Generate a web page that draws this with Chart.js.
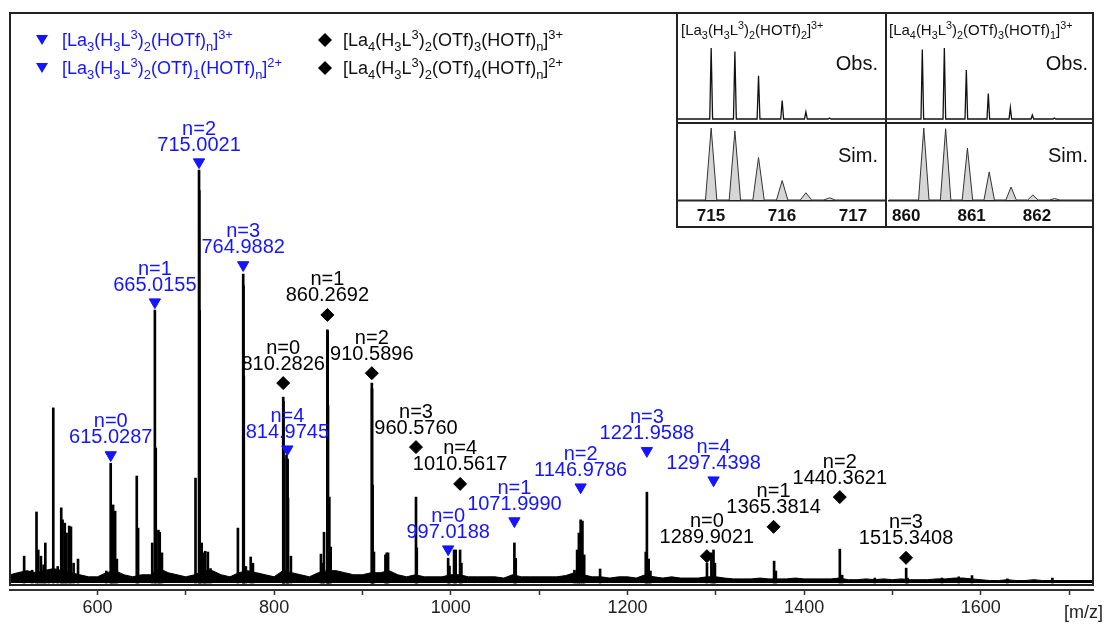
<!DOCTYPE html>
<html>
<head>
<meta charset="utf-8">
<script src="https://cdn.jsdelivr.net/npm/chart.js@4.4.1/dist/chart.umd.min.js"></script>
<style>
body { margin: 0; background: #fff; font-family: "Liberation Sans", Arial, sans-serif; }
#wrap { position: relative; width: 1105px; height: 624px; overflow: hidden; }
#main { position: absolute; left: 0; top: 0; }
.leg { position: absolute; font-size: 18px; line-height: 18px; white-space: nowrap; color: #111; }
.leg sub, .leg sup, .ttl sub, .ttl sup { font-size: 72%; line-height: 0; }
.blue { color: #1414ff; }
.tri { position: absolute; width: 12px; height: 10px; background: #1414ff; clip-path: polygon(0 0, 100% 0, 50% 100%); }
.dia { position: absolute; width: 14px; height: 14px; background: #000; clip-path: polygon(50% 0, 100% 50%, 50% 100%, 0 50%); }
#inset { position: absolute; left: 676px; top: 12px; width: 418px; height: 216px; box-sizing: border-box; border: 2px solid #222; background: #fff; }
#inset canvas { position: absolute; }
.vdiv { position: absolute; left: 207px; top: 0; width: 2px; height: 100%; background: #222; }
.hdiv { position: absolute; left: 0; top: 108px; width: 100%; height: 2px; background: #222; }
.tag { position: absolute; font-size: 20px; line-height: 20px; color: #111; }
.ttl { position: absolute; top: 8px; font-size: 15px; line-height: 15px; white-space: nowrap; color: #111; }
#mz { position: absolute; left: 1064px; top: 602px; font-size: 18px; color: #222; }
</style>
</head>
<body>
<div id="wrap">
  <canvas id="main" width="1105" height="624"></canvas>

  <span class="tri" style="left:36px;top:35px"></span>
  <div class="leg blue" style="left:62px;top:31px">[La<sub>3</sub>(H<sub>3</sub>L<sup>3</sup>)<sub>2</sub>(HOTf)<sub>n</sub>]<sup>3+</sup></div>
  <span class="tri" style="left:36px;top:63px"></span>
  <div class="leg blue" style="left:62px;top:59px">[La<sub>3</sub>(H<sub>3</sub>L<sup>3</sup>)<sub>2</sub>(OTf)<sub>1</sub>(HOTf)<sub>n</sub>]<sup>2+</sup></div>
  <span class="dia" style="left:318px;top:33px"></span>
  <div class="leg" style="left:343px;top:31px">[La<sub>4</sub>(H<sub>3</sub>L<sup>3</sup>)<sub>2</sub>(OTf)<sub>3</sub>(HOTf)<sub>n</sub>]<sup>3+</sup></div>
  <span class="dia" style="left:318px;top:61px"></span>
  <div class="leg" style="left:343px;top:59px">[La<sub>4</sub>(H<sub>3</sub>L<sup>3</sup>)<sub>2</sub>(OTf)<sub>4</sub>(HOTf)<sub>n</sub>]<sup>2+</sup></div>

  <div id="inset">
    <canvas id="obsL" width="207" height="108" style="left:0;top:0"></canvas>
    <canvas id="simL" width="207" height="102" style="left:0;top:110px"></canvas>
    <canvas id="obsR" width="205" height="108" style="left:209px;top:0"></canvas>
    <canvas id="simR" width="205" height="102" style="left:209px;top:110px"></canvas>
    <div class="vdiv"></div>
    <div class="hdiv"></div>
    <div class="ttl blue" style="left:3px">[La<sub>3</sub>(H<sub>3</sub>L<sup>3</sup>)<sub>2</sub>(HOTf)<sub>2</sub>]<sup>3+</sup></div>
    <div class="ttl" style="left:211px">[La<sub>4</sub>(H<sub>3</sub>L<sup>3</sup>)<sub>2</sub>(OTf)<sub>3</sub>(HOTf)<sub>1</sub>]<sup>3+</sup></div>
    <div class="tag" style="right:214px;top:39px">Obs.</div>
    <div class="tag" style="right:214px;top:131px">Sim.</div>
    <div class="tag" style="right:4px;top:39px">Obs.</div>
    <div class="tag" style="right:4px;top:131px">Sim.</div>
  </div>

  <div id="mz">[m/z]</div>
</div>

<script>
// main spectrum, relative intensity (715 peak = 100)
const xMin = 501;
const xMax = 1727;

const peakMz = [517, 526, 531, 533, 536, 539, 541, 545, 550, 555, 559, 560.5, 563, 565, 568, 570, 573, 578,
  610, 615, 616, 617.7, 620, 622, 644.5, 646, 662, 665, 666, 669, 670.5, 673,
  711, 715, 715.33, 715.67, 718, 721, 722, 725, 728, 759, 765, 765.33, 765.67, 768, 773.5, 776,
  810.3, 810.6, 811, 814, 815.3, 815.7, 819, 853, 855, 856.5, 860.3, 860.6, 861, 862.5, 864,
  910.6, 910.9, 911.5, 913, 926, 927.5, 929, 960.6, 961.5, 997, 998.5, 1003.7, 1005.5, 1010.5, 1012,
  1072, 1073.5, 1140, 1143, 1145, 1147, 1149, 1151, 1169, 1220.7, 1222, 1224, 1226,
  1290, 1295, 1297.4, 1299, 1366, 1368, 1440.4, 1443, 1480, 1515.5, 1517, 1556, 1575, 1590, 1630, 1681];
const peakInt = [6.5, 3.1, 17.2, 8, 6.5, 4.4, 9.7, 2.9, 42.4, 4, 18.2, 15.3, 14.5, 12.1, 13.8, 13.6, 4.8, 5.8,
  2.9, 29, 14.5, 18.9, 17.4, 5.8, 25.9, 13.3, 9.7, 66.1, 32.7, 12.8, 12.3, 7.3,
  25.4, 100, 95, 66, 9.7, 7.3, 7.7, 7.5, 3.5, 13.3, 74.8, 72, 50, 4, 6.3, 4.8,
  45, 44, 30, 31, 30, 20.6, 6.5, 7, 4.8, 12.3, 61.3, 61, 43, 20.8, 8.7,
  48.4, 47, 23.7, 7.5, 6.8, 7.3, 7.3, 20.8, 8.5, 6, 4.1, 8, 8, 8, 4.8,
  9.7, 6, 3.1, 8, 12.1, 15.3, 15, 6.8, 3.4, 7.5, 22, 5.8, 2.9,
  4.8, 7.3, 8, 4.8, 5.3, 2.9, 8.2, 1.9, 1.2, 3.6, 1.2, 1.2, 1.5, 1.8, 1, 1.2];

// baseline grass
const floorMz = [501, 510, 520, 530, 540, 550, 560, 570, 580, 590, 600,
  610, 620, 630, 640, 650, 660, 670, 680, 690, 700,
  710, 720, 730, 740, 750, 760, 770, 780, 790, 800,
  810, 820, 830, 840, 850, 860, 870, 880, 890, 900,
  910, 920, 930, 940, 950, 960, 970, 980, 990, 1000,
  1010, 1020, 1030, 1040, 1050, 1060, 1070, 1080, 1090, 1100,
  1110, 1120, 1130, 1140, 1150, 1160, 1170, 1180, 1190, 1200,
  1210, 1220, 1230, 1240, 1250, 1260, 1270, 1280, 1290, 1300,
  1310, 1320, 1330, 1340, 1350, 1360, 1370, 1380, 1390, 1400,
  1410, 1420, 1430, 1440, 1450, 1460, 1470, 1480, 1490, 1500,
  1510, 1520, 1530, 1540, 1550, 1560, 1570, 1580, 1590, 1600,
  1610, 1620, 1630, 1640, 1650, 1660, 1670, 1680, 1690, 1700, 1710, 1727];
const floorInt = [2, 2.5, 3, 2.5, 3, 3.5, 3, 2.5, 2, 1.5, 1.5,
  2.5, 3, 2, 1.5, 2, 2, 3.5, 2.5, 2, 1.5,
  2, 3, 3, 2, 1.5, 2.5, 3, 2.5, 2, 1.5,
  3, 2.5, 2, 1.5, 2.5, 3, 3, 2.5, 2, 2,
  2.5, 2.5, 3, 2, 1.5, 2, 1.5, 1.5, 1.5, 2,
  2, 1.5, 1.5, 1.5, 1.5, 1.2, 2, 1.5, 1.5, 1.5,
  1.5, 1.5, 1.8, 2.5, 2, 1.5, 1.5, 1.2, 1.5, 1.5,
  1.2, 2, 1.5, 1.2, 1.5, 1.2, 1.2, 1.2, 1.5, 1.5,
  1.2, 1, 1, 1, 1.2, 1, 1, 1, 1.2, 1,
  1, 1, 1, 1.2, 0.8, 0.8, 1, 0.8, 1, 0.8,
  1, 0.8, 0.8, 0.8, 1, 1, 1.2, 1.2, 1, 0.8,
  0.6, 0.6, 0.8, 0.6, 0.6, 0.8, 0.6, 0.6, 0.6, 0.6, 0.6, 0.6];

// [La3(H3L3)2(HOTf)n]3+ and [La3(H3L3)2(OTf)1(HOTf)n]2+  (blue triangles)
const triMz = [615.0287, 665.0155, 715.0021, 764.9882, 814.9745, 997.0188, 1071.9990, 1146.9786, 1221.9588, 1297.4398];
const triY = [31.0, 68.0, 101.9, 77.0, 32.4, 8.2, 15.0, 23.2, 32.0, 24.9];
const triN = ['n=0', 'n=1', 'n=2', 'n=3', 'n=4', 'n=0', 'n=1', 'n=2', 'n=3', 'n=4'];

// [La4(H3L3)2(OTf)3(HOTf)n]3+ and [La4(H3L3)2(OTf)4(HOTf)n]2+  (black diamonds)
const diaMz = [810.2826, 860.2692, 910.5896, 960.5760, 1010.5617, 1289.9021, 1365.3814, 1440.3621, 1515.3408];
const diaY = [48.4, 64.9, 50.8, 32.9, 24.0, 6.5, 13.6, 20.8, 6.1];
const diaN = ['n=0', 'n=1', 'n=2', 'n=3', 'n=4', 'n=0', 'n=1', 'n=2', 'n=3'];

// inset isotope patterns
const isoLMz = [715.002, 715.336, 715.669, 716.002, 716.336, 716.669];
const isoLObs = [1.0, 0.95, 0.61, 0.26, 0.10, 0.014];
const isoLSim = [1.0, 0.96, 0.59, 0.27, 0.10, 0.03];
const isoRMz = [860.269, 860.603, 860.936, 861.269, 861.603, 861.936, 862.269];
const isoRObs = [0.98, 1.0, 0.69, 0.36, 0.16, 0.056, 0.014];
const isoRSim = [1.0, 0.99, 0.72, 0.39, 0.18, 0.07, 0.02];

const FONT = '"Liberation Sans", Arial, sans-serif';
const BLUE = '#1414ff';

const peakLabels = {
  id: 'peakLabels',
  afterDatasetsDraw(chart) {
    const ctx = chart.ctx;
    chart.data.datasets.forEach((ds, i) => {
      if (!ds.labelN) return;
      const meta = chart.getDatasetMeta(i);
      ctx.save();
      ctx.fillStyle = ds.labelColor;
      ctx.font = '20px ' + FONT;
      ctx.textAlign = 'center';
      ctx.textBaseline = 'middle';
      meta.data.forEach((pt, j) => {
        ctx.fillText(ds.labelN[j], pt.x, pt.y - ds.gapN);
        ctx.fillText(ds.data[j].x.toFixed(4), pt.x, pt.y - ds.gapM);
      });
      ctx.restore();
    });
  }
};

const frame = {
  id: 'frame',
  afterDraw(chart) {
    const a = chart.chartArea;
    const ctx = chart.ctx;
    ctx.save();
    ctx.strokeStyle = '#222';
    ctx.lineWidth = 2;
    ctx.strokeRect(a.left, a.top, a.right - a.left, a.bottom - 5 - a.top);
    ctx.restore();
  }
};

new Chart(document.getElementById('main'), {
  data: {
    datasets: [
      {
        type: 'line',
        data: floorMz.map((m, i) => ({ x: m, y: floorInt[i] })),
        fill: 'origin',
        backgroundColor: '#000',
        borderColor: '#000',
        borderWidth: 1,
        pointRadius: 0,
        order: 4
      },
      {
        type: 'bar',
        data: peakMz.map((m, i) => ({ x: m, y: peakInt[i] })),
        backgroundColor: '#000',
        barThickness: 2,
        order: 3
      },
      {
        type: 'line',
        showLine: false,
        data: triMz.map((m, i) => ({ x: m, y: triY[i] })),
        pointStyle: 'triangle',
        rotation: 180,
        pointRadius: 6.5,
        backgroundColor: BLUE,
        borderColor: BLUE,
        borderWidth: 1,
        labelN: triN,
        labelColor: BLUE,
        gapN: 33,
        gapM: 17,
        order: 2
      },
      {
        type: 'line',
        showLine: false,
        data: diaMz.map((m, i) => ({ x: m, y: diaY[i] })),
        pointStyle: 'rectRot',
        pointRadius: 6.5,
        backgroundColor: '#000',
        borderColor: '#000',
        borderWidth: 1,
        labelN: diaN,
        labelColor: '#000',
        gapN: 35,
        gapM: 19,
        order: 1
      }
    ]
  },
  options: {
    responsive: false,
    animation: false,
    events: [],
    layout: { padding: { left: 10, right: 12, top: 13, bottom: 0 } },
    plugins: { legend: { display: false }, tooltip: { enabled: false } },
    scales: {
      x: {
        type: 'linear',
        offset: false,
        min: xMin,
        max: xMax,
        afterFit(s) { s.height = 34; },
        border: { color: '#333', width: 2 },
        grid: { offset: false, drawOnChartArea: false, tickLength: 5, color: '#333', tickWidth: 1.5 },
        ticks: {
          stepSize: 100,
          includeBounds: false,
          autoSkip: false,
          maxRotation: 0,
          padding: 2,
          color: '#222',
          font: { family: FONT, size: 18 },
          callback: v => (v % 200 === 0 ? v : '')
        }
      },
      y: { display: false, min: -1.69, max: 138 }
    }
  },
  plugins: [frame, peakLabels]
});

function isoChart(id, mzs, ints, lo, hi, sim, tickVals) {
  const w = sim ? 0.08 : 0.02;
  const pts = [{ x: lo, y: 0 }];
  mzs.forEach((m, i) => {
    pts.push({ x: m - w, y: 0 }, { x: m, y: ints[i] }, { x: m + w, y: 0 });
  });
  pts.push({ x: hi, y: 0 });
  const xScale = {
    type: 'linear',
    min: lo,
    max: hi,
    display: sim,
    border: { color: '#222', width: 1.5 },
    grid: { display: false, drawTicks: false },
    afterBuildTicks(s) { s.ticks = tickVals.map(v => ({ value: v })); },
    ticks: {
      padding: 5,
      color: '#111',
      font: { family: '"Liberation Sans Narrow", "Liberation Sans", Arial, sans-serif', size: 17, weight: 'bold' }
    }
  };
  if (sim) xScale.afterFit = s => { s.height = 25; };
  new Chart(document.getElementById(id), {
    type: 'line',
    data: {
      datasets: [{
        data: pts,
        borderColor: sim ? '#333' : '#111',
        borderWidth: sim ? 1 : 1.3,
        backgroundColor: '#d6d6d6',
        fill: sim ? 'origin' : false,
        pointRadius: 0,
        tension: 0
      }]
    },
    options: {
      responsive: false,
      animation: false,
      events: [],
      layout: { padding: 0 },
      plugins: { legend: { display: false }, tooltip: { enabled: false } },
      scales: {
        x: xScale,
        y: { display: false, min: sim ? -0.014 : -0.042, max: sim ? 1.056 : 1.48 }
      }
    }
  });
}

isoChart('obsL', isoLMz, isoLObs, 714.535, 717.45, false, [715, 716, 717]);
isoChart('simL', isoLMz, isoLSim, 714.535, 717.45, true, [715, 716, 717]);
isoChart('obsR', isoRMz, isoRObs, 859.734, 862.84, false, [860, 861, 862]);
isoChart('simR', isoRMz, isoRSim, 859.734, 862.84, true, [860, 861, 862]);
</script>
</body>
</html>
